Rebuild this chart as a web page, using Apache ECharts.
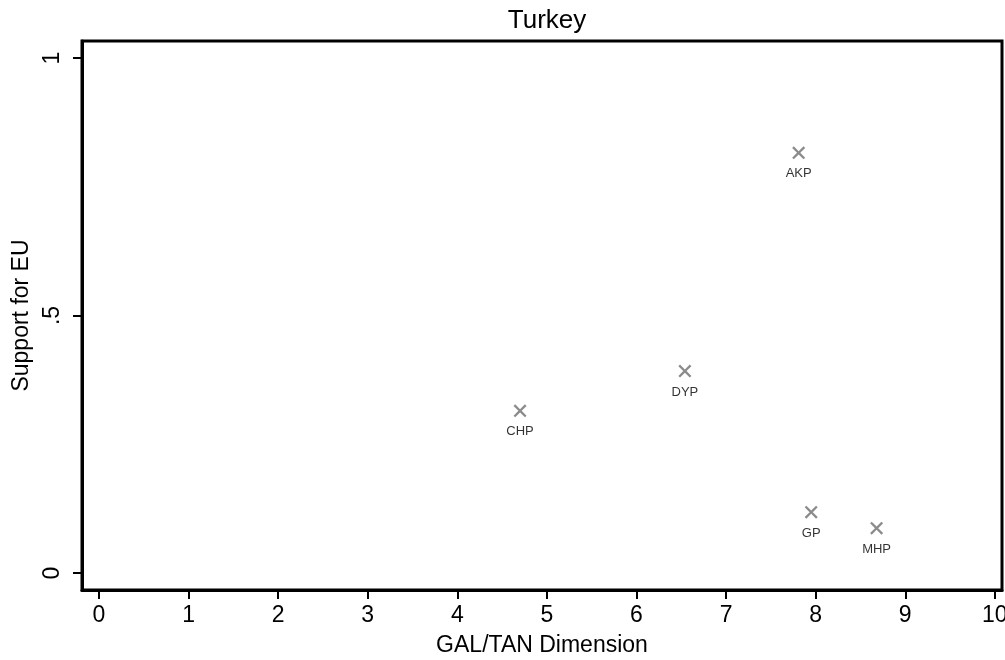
<!DOCTYPE html>
<html>
<head>
    <meta charset="utf-8" />
    <title>Turkey</title>
    <script src="https://cdn.jsdelivr.net/npm/echarts@6/dist/echarts.min.js"></script>
</head>
<body style="margin:0;">
<div id="main" style="width: 1005px;height:660px;"></div>
<script type="text/javascript">
    // party positions: GAL/TAN dimension vs support for EU
    var parties = ['AKP', 'DYP', 'CHP', 'GP', 'MHP'];
    var galTan = [7.81, 6.54, 4.70, 7.95, 8.68];
    var euSupport = [0.816, 0.392, 0.315, 0.118, 0.087];
    var xTicks = [0, 1, 2, 3, 4, 5, 6, 7, 8, 9, 10];
    var yTicks = [0, 0.5, 1];

    var points = [];
    for (var i = 0; i < parties.length; i++) {
        points.push({ name: parties[i], value: [galTan[i], euSupport[i]] });
    }

    var font = 'Liberation Sans, Arial, sans-serif';
    var myChart = echarts.init(document.getElementById('main'));
    var option = {
        backgroundColor: '#fff',
        animation: false,
        title: {
            text: 'Turkey',
            left: 542,
            top: 3,
            textAlign: 'center',
            textStyle: { fontFamily: font, fontSize: 26, fontWeight: 'normal', color: '#000' }
        },
        grid: {
            left: 82, right: 3, top: 41, bottom: 70,
            outerBoundsMode: 'none',
            containLabel: false,
            show: true, borderColor: '#000', borderWidth: 3
        },
        xAxis: {
            type: 'value',
            min: -0.19, max: 10.08,
            name: 'GAL/TAN Dimension',
            nameLocation: 'middle',
            nameGap: 44,
            nameTextStyle: { fontFamily: font, fontSize: 23, color: '#000' },
            axisLine: { show: true, onZero: false, lineStyle: { color: '#000', width: 3 } },
            axisTick: { show: true, customValues: xTicks, length: 9, lineStyle: { color: '#000', width: 2 } },
            axisLabel: {
                customValues: xTicks, margin: 14,
                fontFamily: font, fontSize: 23, color: '#000'
            },
            splitLine: { show: false }
        },
        yAxis: {
            type: 'value',
            min: -0.033, max: 1.033,
            name: 'Support for EU',
            nameLocation: 'middle',
            nameGap: 46,
            nameTextStyle: { fontFamily: font, fontSize: 23, color: '#000' },
            axisLine: { show: true, onZero: false, lineStyle: { color: '#000', width: 3 } },
            axisTick: { show: true, customValues: yTicks, length: 9, lineStyle: { color: '#000', width: 2 } },
            axisLabel: {
                customValues: yTicks, rotate: 90, margin: 18,
                fontFamily: font, fontSize: 23, color: '#000',
                formatter: function (v) {
                    if (v === 0.5) return '.5';
                    return String(v);
                }
            },
            splitLine: { show: false }
        },
        series: [
            {
                type: 'scatter',
                data: points,
                symbol: 'path://M0,1.5L1.5,0L6,4.5L10.5,0L12,1.5L7.5,6L12,10.5L10.5,12L6,7.5L1.5,12L0,10.5L4.5,6Z',
                symbolSize: 13,
                itemStyle: { color: '#6e6e6e' },
                label: {
                    show: true,
                    position: 'bottom',
                    distance: 8,
                    formatter: '{b}',
                    fontFamily: font,
                    fontSize: 13,
                    color: '#000'
                }
            }
        ]
    };
    myChart.setOption(option);
</script>
</body>
</html>
